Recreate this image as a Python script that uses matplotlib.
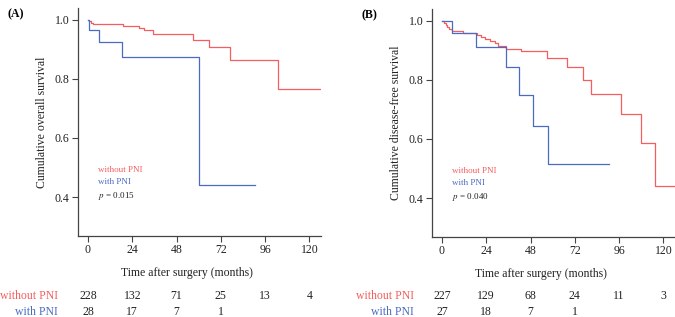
import matplotlib
matplotlib.use('Agg')
from matplotlib import pyplot as plt
import matplotlib.transforms as mtransforms

plt.rcParams['font.family'] = ['Liberation Serif', 'DejaVu Serif']

red = '#F65D5F'
blue = '#4A6BC4'

# ##############-(A) overall survival-##########################
os_t_nopni = [0, 0.5, 1.5, 2.5, 19.1, 27.8, 30.3, 35.3, 57, 65.6, 77, 103, 126]
os_s_nopni = [1.0, 0.995, 0.99, 0.986, 0.978, 0.971, 0.964, 0.953, 0.933, 0.907, 0.864, 0.767, 0.767]
os_t_pni = [0, 0.4, 6.1, 18.2, 60, 90.6]
os_s_pni = [1.0, 0.964, 0.924, 0.875, 0.442, 0.442]

# ##############-(B) disease-free survival-#####################
dfs_t_nopni = [0, 1, 2, 3, 4, 5.3, 11.6, 18.8, 21, 23.5, 26, 28.5, 30.6, 34.6, 42.8,
               57, 68, 76.7, 81, 97, 107.7, 115.5, 126]
dfs_s_nopni = [1.0, 0.993, 0.986, 0.979, 0.972, 0.965, 0.96, 0.953, 0.946, 0.94, 0.933,
               0.926, 0.913, 0.905, 0.897, 0.875, 0.843, 0.80, 0.751, 0.684, 0.586, 0.44, 0.44]
dfs_t_pni = [0, 5.6, 18.3, 34.6, 42, 49.4, 57.7, 90.6]
dfs_s_pni = [1.0, 0.958, 0.912, 0.843, 0.75, 0.643, 0.515, 0.515]

# numbers at risk
risk_times = [0, 24, 48, 72, 96, 120]
os_risk_nopni = [228, 132, 71, 25, 13, 4]
os_risk_pni = [28, 17, 7, 1]
dfs_risk_nopni = [227, 129, 68, 24, 11, 3]
dfs_risk_pni = [27, 18, 7, 1]

xticks = [0, 24, 48, 72, 96, 120]
yticks = [0.4, 0.6, 0.8, 1.0]

fig = plt.figure(dpi=100, figsize=(6.75, 3.17))


def panel(rect, t1, s1, t2, s2, ylabel, pval, letter, r1, r2, rowlab_x):
    ax = fig.add_axes(rect)
    ax.step(t1, s1, where='post', c=red, linewidth=0.9)
    ax.step(t2, s2, where='post', c=blue, linewidth=0.9)
    ax.set_xlim(-5.4, 126.3)
    ax.set_ylim(0.268, 1.04)
    ax.set_xticks(xticks)
    ax.set_yticks(yticks)
    ax.set_yticklabels(['0.4', '0.6', '0.8', '1.0'])
    for s in ['top', 'right']:
        ax.spines[s].set_visible(False)
    for s in ['left', 'bottom']:
        ax.spines[s].set_color('#444444')
        ax.spines[s].set_linewidth(0.9)
    ax.tick_params(axis='both', direction='out', length=4, width=0.8,
                   color='#444444', labelsize=8.5, labelcolor='#222222', pad=2)
    ax.set_xlabel('Time after surgery (months)', fontsize=8.5, color='#222222')
    ax.xaxis.set_label_coords(0.45, -0.135)
    ax.set_ylabel(ylabel, fontsize=8.5, color='#222222')
    ax.yaxis.set_label_coords(-0.123, 0.5)

    ax.text(5.4, 0.49, 'without PNI', color=red, fontsize=6.5, va='center')
    ax.text(5.4, 0.452, 'with PNI', color=blue, fontsize=6.5, va='center')
    ax.text(5.4, 0.402, r'$p$ = ' + pval, color='#222222', fontsize=6.5, va='center',
            math_fontfamily='stix')
    ax.text(-0.29, 1.0, letter, transform=ax.transAxes, fontsize=8.5,
            fontweight='bold', va='top', ha='left')

    tr = mtransforms.blended_transform_factory(ax.transData, fig.transFigure)
    ax.text(rowlab_x, 0.066, 'without PNI', color=red, fontsize=8.5,
            ha='right', va='center', transform=tr, clip_on=False)
    ax.text(rowlab_x, 0.016, 'with PNI', color=blue, fontsize=8.5,
            ha='right', va='center', transform=tr, clip_on=False)
    for x, n in zip(risk_times, r1):
        ax.text(x, 0.066, str(n), fontsize=8.5, ha='center', va='center',
                transform=tr, clip_on=False, color='#222222')
    for x, n in zip(risk_times, r2):
        ax.text(x, 0.016, str(n), fontsize=8.5, ha='center', va='center',
                transform=tr, clip_on=False, color='#222222')
    return ax


panel([0.1156, 0.2555, 0.36, 0.7193], os_t_nopni, os_s_nopni, os_t_pni, os_s_pni,
      'Cumulative overall survival', '0.015', '(A)', os_risk_nopni, os_risk_pni, -16.2)
panel([0.64, 0.2524, 0.36, 0.7193], dfs_t_nopni, dfs_s_nopni, dfs_t_pni, dfs_s_pni,
      'Cumulative disease-free survival', '0.040', '(B)', dfs_risk_nopni, dfs_risk_pni, -15.2)

plt.savefig('out.png', dpi=100)
